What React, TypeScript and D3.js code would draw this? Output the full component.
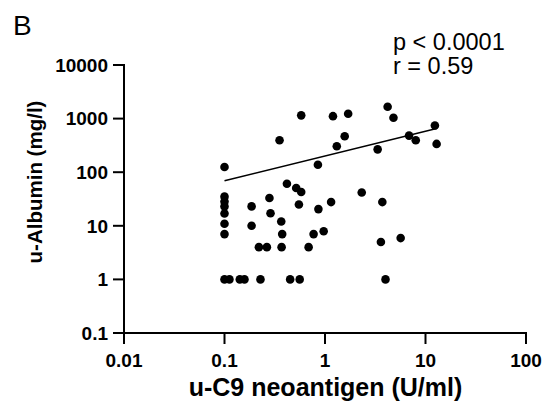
import React from "react";
import * as d3 from "d3";

// u-C9 neoantigen (U/ml) vs u-Albumin (mg/l)
const xValues = [
  0.1, 0.1, 0.1, 0.1, 0.1, 0.1, 0.1, 0.1,
  0.112, 0.142, 0.158, 0.228, 0.45, 0.56, 4.0,
  0.186, 0.186, 0.28, 0.287, 0.367, 0.375, 0.22, 0.264, 0.37, 0.687,
  0.77, 0.97, 0.86, 0.418, 0.517, 0.58, 0.55, 1.15, 2.32, 3.72, 3.6, 5.66,
  0.353, 0.58, 0.85, 1.2, 1.7, 4.2, 4.8, 12.4, 1.57, 1.31, 6.86, 8.0, 12.9, 3.34,
];
const yValues = [
  125, 35, 28.5, 23, 17, 10.9, 7, 1,
  1, 1, 1, 1, 1, 1, 1,
  23, 10, 33, 17.2, 12, 7, 4, 4, 4, 4,
  7, 7.9, 20.5, 61, 50.6, 42.6, 25, 27.7, 41.9, 27.7, 5, 5.9,
  394, 1150, 138, 1110, 1230, 1660, 1035, 743, 468, 304, 482, 394, 337, 267,
];
// regression line end points (x, y)
const fitX = [0.1, 12.9];
const fitY = [69, 656];

const xTicks = [0.01, 0.1, 1, 10, 100];
const xTickLabels = ["0.01", "0.1", "1", "10", "100"];
const yTicks = [0.1, 1, 10, 100, 1000, 10000];
const yTickLabels = ["0.1", "1", "10", "100", "1000", "10000"];

const statLines = ["p < 0.0001", "r = 0.59"];

const FONT = "'Liberation Sans', Arial, Helvetica, sans-serif";

export default function App() {
  const W = 552;
  const H = 417;
  const x = d3.scaleLog().domain([0.01, 100]).range([124, 526]);
  const y = d3.scaleLog().domain([0.1, 10000]).range([333, 65]);
  const line = d3
    .line<number>()
    .x((d) => x(fitX[d]))
    .y((d) => y(fitY[d]));

  return (
    <svg
      width={W}
      height={H}
      style={{ position: "absolute", left: 0, top: 0, background: "#fff" }}
      fontFamily={FONT}
    >
      <rect width={W} height={H} fill="#fff" />
      <text x={13} y={35} fontSize={28} fill="#000">
        B
      </text>
      {/* axes */}
      <line x1={x(0.01)} x2={x(0.01)} y1={y(10000) - 1} y2={y(0.1) + 1} stroke="#000" strokeWidth={2} />
      <line x1={x(0.01) - 1} x2={x(100) + 1} y1={y(0.1)} y2={y(0.1)} stroke="#000" strokeWidth={2} />
      {yTicks.map((t, i) => (
        <g key={"y" + i}>
          <line x1={x(0.01) - 11} x2={x(0.01)} y1={y(t)} y2={y(t)} stroke="#000" strokeWidth={2} />
          <text x={108} y={y(t) + 6.8} textAnchor="end" fontSize={19} fontWeight="bold" fill="#000">
            {yTickLabels[i]}
          </text>
        </g>
      ))}
      {xTicks.map((t, i) => (
        <g key={"x" + i}>
          <line x1={x(t)} x2={x(t)} y1={y(0.1)} y2={y(0.1) + 11} stroke="#000" strokeWidth={2} />
          <text x={x(t)} y={366.5} textAnchor="middle" fontSize={19} fontWeight="bold" fill="#000">
            {xTickLabels[i]}
          </text>
        </g>
      ))}
      <text x={325.5} y={395.5} textAnchor="middle" fontSize={25} fontWeight="bold" fill="#000">
        u-C9 neoantigen (U/ml)
      </text>
      <text
        transform={`translate(42,182) rotate(-90)`}
        textAnchor="middle"
        fontSize={20.5}
        fontWeight="bold"
        fill="#000"
      >
        u-Albumin (mg/l)
      </text>
      {/* regression line */}
      <path d={line([0, 1]) || ""} fill="none" stroke="#000" strokeWidth={1.5} />
      {/* points */}
      {xValues.map((v, i) => (
        <circle key={"p" + i} cx={x(v)} cy={y(yValues[i])} r={4.3} fill="#000" />
      ))}
      {statLines.map((s, i) => (
        <text key={"s" + i} x={393} y={50 + i * 24} fontSize={23.5} fill="#000">
          {s}
        </text>
      ))}
    </svg>
  );
}
